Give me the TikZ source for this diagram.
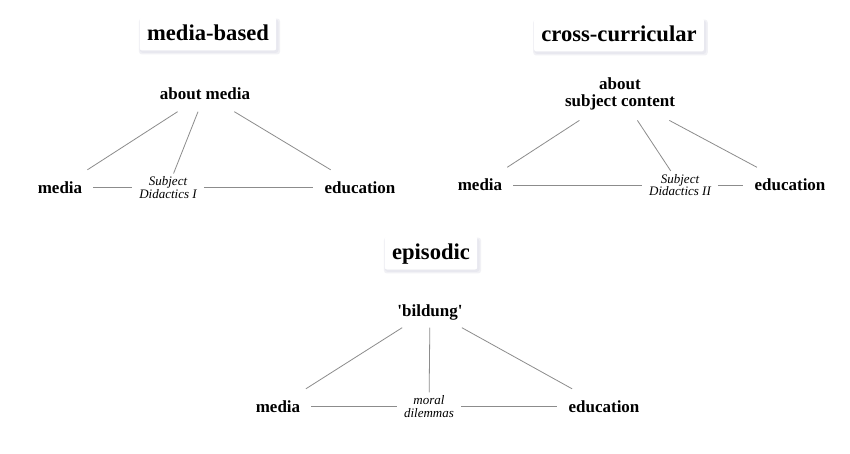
\documentclass[tikz,border=0pt]{standalone}
\usepackage{fontspec}
\setmainfont{Liberation Serif}
\begin{document}
\begin{tikzpicture}[x=1pt,y=-1pt,
  titlebox/.style={font=\fontsize{22.6}{24}\selectfont\bfseries, fill=white, text height=17pt, text depth=3.5pt, inner xsep=7pt, inner ysep=6pt, rounded corners=2pt},
  term/.style={font=\fontsize{17}{17}\selectfont\bfseries, text height=13.5pt, text depth=1.5pt, inner xsep=11pt, inner ysep=10pt},
  term2/.style={font=\fontsize{17}{17}\selectfont\bfseries, align=center, inner xsep=11pt, inner ysep=10pt},
  sub/.style={font=\fontsize{13}{12.5}\selectfont\itshape, align=center, inner xsep=7pt, inner ysep=3pt},
  link/.style={draw=black!45, line width=0.8pt},
  shadowA/.style={fill=blue!30!black!12, opacity=0.5, rounded corners=3pt},
  shadowB/.style={fill=blue!30!black!10, opacity=0.5, rounded corners=3pt}]
\useasboundingbox (0,0) rectangle (850,454);
\fill[white] (0,0) rectangle (850,454);

% titles
\node[titlebox] (t1) at (208,34) {media-based};
\node[titlebox] (t2) at (619,35) {cross-curricular};
\node[titlebox] (t3) at (431,253) {episodic};
\foreach \t in {t1,t2,t3}{
  \fill[shadowB] ([xshift=-1pt,yshift=-4pt]\t.south west) rectangle ([xshift=4pt,yshift=-1pt]\t.north east);
  \fill[shadowA] ([xshift=0pt,yshift=-2.5pt]\t.south west) rectangle ([xshift=2.5pt,yshift=-2pt]\t.north east);
  \fill[white, rounded corners=2pt] (\t.south west) rectangle (\t.north east);
}
\node[titlebox] at (t1) {media-based};
\node[titlebox] at (t2) {cross-curricular};
\node[titlebox] at (t3) {episodic};

% panel 1
\node[term] (am) at (205,94) {about media};
\node[term] (m1) at (60,187.5) {media};
\node[term] (e1) at (360,187.5) {education};
\node[sub]  (s1) at (168,187.5) {Subject\\Didactics I};
\draw[link] (am) -- (m1);
\draw[link] (am) -- (s1);
\draw[link] (am) -- (e1);
\draw[link] (m1) -- (s1);
\draw[link] (s1) -- (e1);

% panel 2
\node[term2] (asc) at (620,94) {about\\subject content};
\node[term] (m2) at (480,185) {media};
\node[term] (e2) at (790,185) {education};
\node[sub]  (s2) at (680,185) {Subject\\Didactics II};
\draw[link] (asc) -- (m2);
\draw[link] (asc) -- (s2);
\draw[link] (asc) -- (e2);
\draw[link] (m2) -- (s2);
\draw[link] (s2) -- (e2);

% panel 3
\node[term] (bd) at (430,310) {\textquotesingle bildung\textquotesingle};
\node[term] (m3) at (278,406.5) {media};
\node[term] (e3) at (604,406.5) {education};
\node[sub]  (s3) at (429,406.5) {moral\\dilemmas};
\draw[link] (bd) -- (m3);
\draw[link] (bd) -- (s3);
\draw[link] (bd) -- (e3);
\draw[link] (m3) -- (s3);
\draw[link] (s3) -- (e3);
\end{tikzpicture}
\end{document}
